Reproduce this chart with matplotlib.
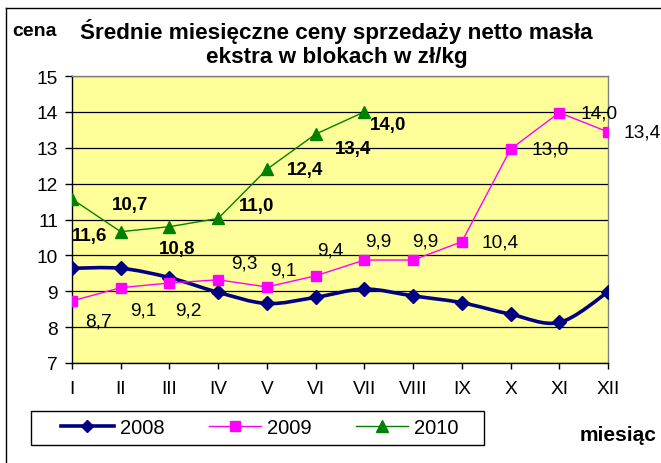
import matplotlib
matplotlib.use("Agg")
import matplotlib.pyplot as plt
from matplotlib.path import Path
from matplotlib.patches import PathPatch, Rectangle
from matplotlib.lines import Line2D

plt.rcParams['font.family'] = ['Liberation Sans', 'DejaVu Sans']

months = ["I", "II", "III", "IV", "V", "VI", "VII", "VIII", "IX", "X", "XI", "XII"]
y2008 = [9.64, 9.64, 9.38, 8.97, 8.66, 8.83, 9.06, 8.87, 8.68, 8.36, 8.13, 8.98]
y2009 = [8.73, 9.10, 9.23, 9.32, 9.12, 9.43, 9.87, 9.87, 10.38, 12.96, 13.98, 13.44]
y2010 = [11.57, 10.66, 10.80, 11.03, 12.40, 13.38, 14.00]
yticks = [7, 8, 9, 10, 11, 12, 13, 14, 15]

# label offsets in pixels (style only)
off2009 = [(27, -20), (23, -22), (19, -27), (26, 17), (16, 17), (15, 26),
           (14, 19), (12, 19), (38, 0), (40, 0), (40, 0), (34, 0)]
off2010 = [(18, -36), (9, 27), (8, -22), (38, 13), (38, 0), (37, -14), (24, -13)]

W, H = 661, 464
fig = plt.figure(figsize=(W / 100, H / 100), dpi=100)
fig.patch.set_facecolor('white')

def fx(px):
    return px / W

def fy(py):
    return 1 - py / H

ax = fig.add_axes([fx(72), fy(364), fx(608) - fx(72), (364 - 77) / H])
ax.set_facecolor('#FFFF99')

x = list(range(len(months)))

# smoothed 2008 line (Bezier through data points)
verts = [(x[0], y2008[0])]
codes = [Path.MOVETO]
n = len(y2008)
for i in range(n - 1):
    p0 = (x[max(i - 1, 0)], y2008[max(i - 1, 0)])
    p1 = (x[i], y2008[i])
    p2 = (x[i + 1], y2008[i + 1])
    p3 = (x[min(i + 2, n - 1)], y2008[min(i + 2, n - 1)])
    c1 = (p1[0] + (p2[0] - p0[0]) / 6, p1[1] + (p2[1] - p0[1]) / 6)
    c2 = (p2[0] - (p3[0] - p1[0]) / 6, p2[1] - (p3[1] - p1[1]) / 6)
    verts += [c1, c2, p2]
    codes += [Path.CURVE4] * 3
ax.add_patch(PathPatch(Path(verts, codes), facecolor='none', edgecolor='#000080',
                       lw=2.6, zorder=3, capstyle='round', joinstyle='round'))
ax.plot(x, y2008, linestyle='none', marker='D', color='#000080', ms=7.5, zorder=4)

ax.plot(x, y2009, color='#FF00FF', lw=1, marker='s', ms=7, zorder=4)
ax.plot(x[:len(y2010)], y2010, color='#008000', lw=1, marker='^', ms=8, zorder=4)

for i, v in enumerate(y2009):
    ax.annotate(f"{v:.1f}".replace('.', ','), (x[i], v), xytext=off2009[i],
                textcoords='offset pixels', ha='center', va='center',
                fontsize=13.8, color='black', annotation_clip=False, zorder=5)
for i, v in enumerate(y2010):
    ax.annotate(f"{v:.1f}".replace('.', ','), (x[i], v), xytext=off2010[i],
                textcoords='offset pixels', ha='center', va='center',
                fontsize=13.5, fontweight='bold', color='black',
                annotation_clip=False, zorder=5)

ax.set_xlim(0, 11)
ax.set_ylim(7, 15)
ax.set_yticks(yticks)
ax.set_xticks(x)
ax.set_xticklabels(months)
ax.yaxis.grid(True, color='black', lw=0.9)
ax.set_axisbelow(True)
ax.tick_params(axis='y', direction='out', length=5, width=1, pad=5, labelsize=13.8)
ax.tick_params(axis='x', direction='out', length=4.5, width=1, pad=8, labelsize=13.8)
for s in ['top', 'right']:
    ax.spines[s].set_color('#808080')
    ax.spines[s].set_linewidth(1)
for s in ['left', 'bottom']:
    ax.spines[s].set_color('black')
    ax.spines[s].set_linewidth(1)

# outer border (left and top edges visible)
fig.add_artist(Line2D([fx(6), fx(6)], [fy(9), 0], color='black', lw=1))
fig.add_artist(Line2D([fx(6), 1], [fy(9), fy(9)], color='black', lw=1))

fig.text(fx(336), fy(32), "Średnie miesięczne ceny sprzedaży netto masła",
         ha='center', va='center', fontsize=16.2, fontweight='bold')
fig.text(fx(337), fy(58), "ekstra w blokach w zł/kg",
         ha='center', va='center', fontsize=16.2, fontweight='bold')
fig.text(fx(12), fy(32), "cena", ha='left', va='center', fontsize=14, fontweight='bold')
fig.text(fx(580), fy(436), "miesiąc", ha='left', va='center', fontsize=15, fontweight='bold')

# legend
fig.add_artist(Rectangle((fx(31), fy(446)), fx(484) - fx(31), (446 - 412) / H,
                         transform=fig.transFigure, facecolor='white',
                         edgecolor='black', lw=1))
handles = [
    Line2D([], [], color='#000080', lw=2.6, marker='D', ms=6.5),
    Line2D([], [], color='#FF00FF', lw=1, marker='s', ms=7),
    Line2D([], [], color='#008000', lw=1, marker='^', ms=8),
]
fig.legend(handles, ["2008", "2009", "2010"], loc='center',
           bbox_to_anchor=(fx(260), fy(429)), ncol=3, frameon=False,
           fontsize=14.5, handlelength=2.6, handletextpad=0.3, columnspacing=2.2,
           borderpad=0)

fig.savefig("out.png", dpi=100)
